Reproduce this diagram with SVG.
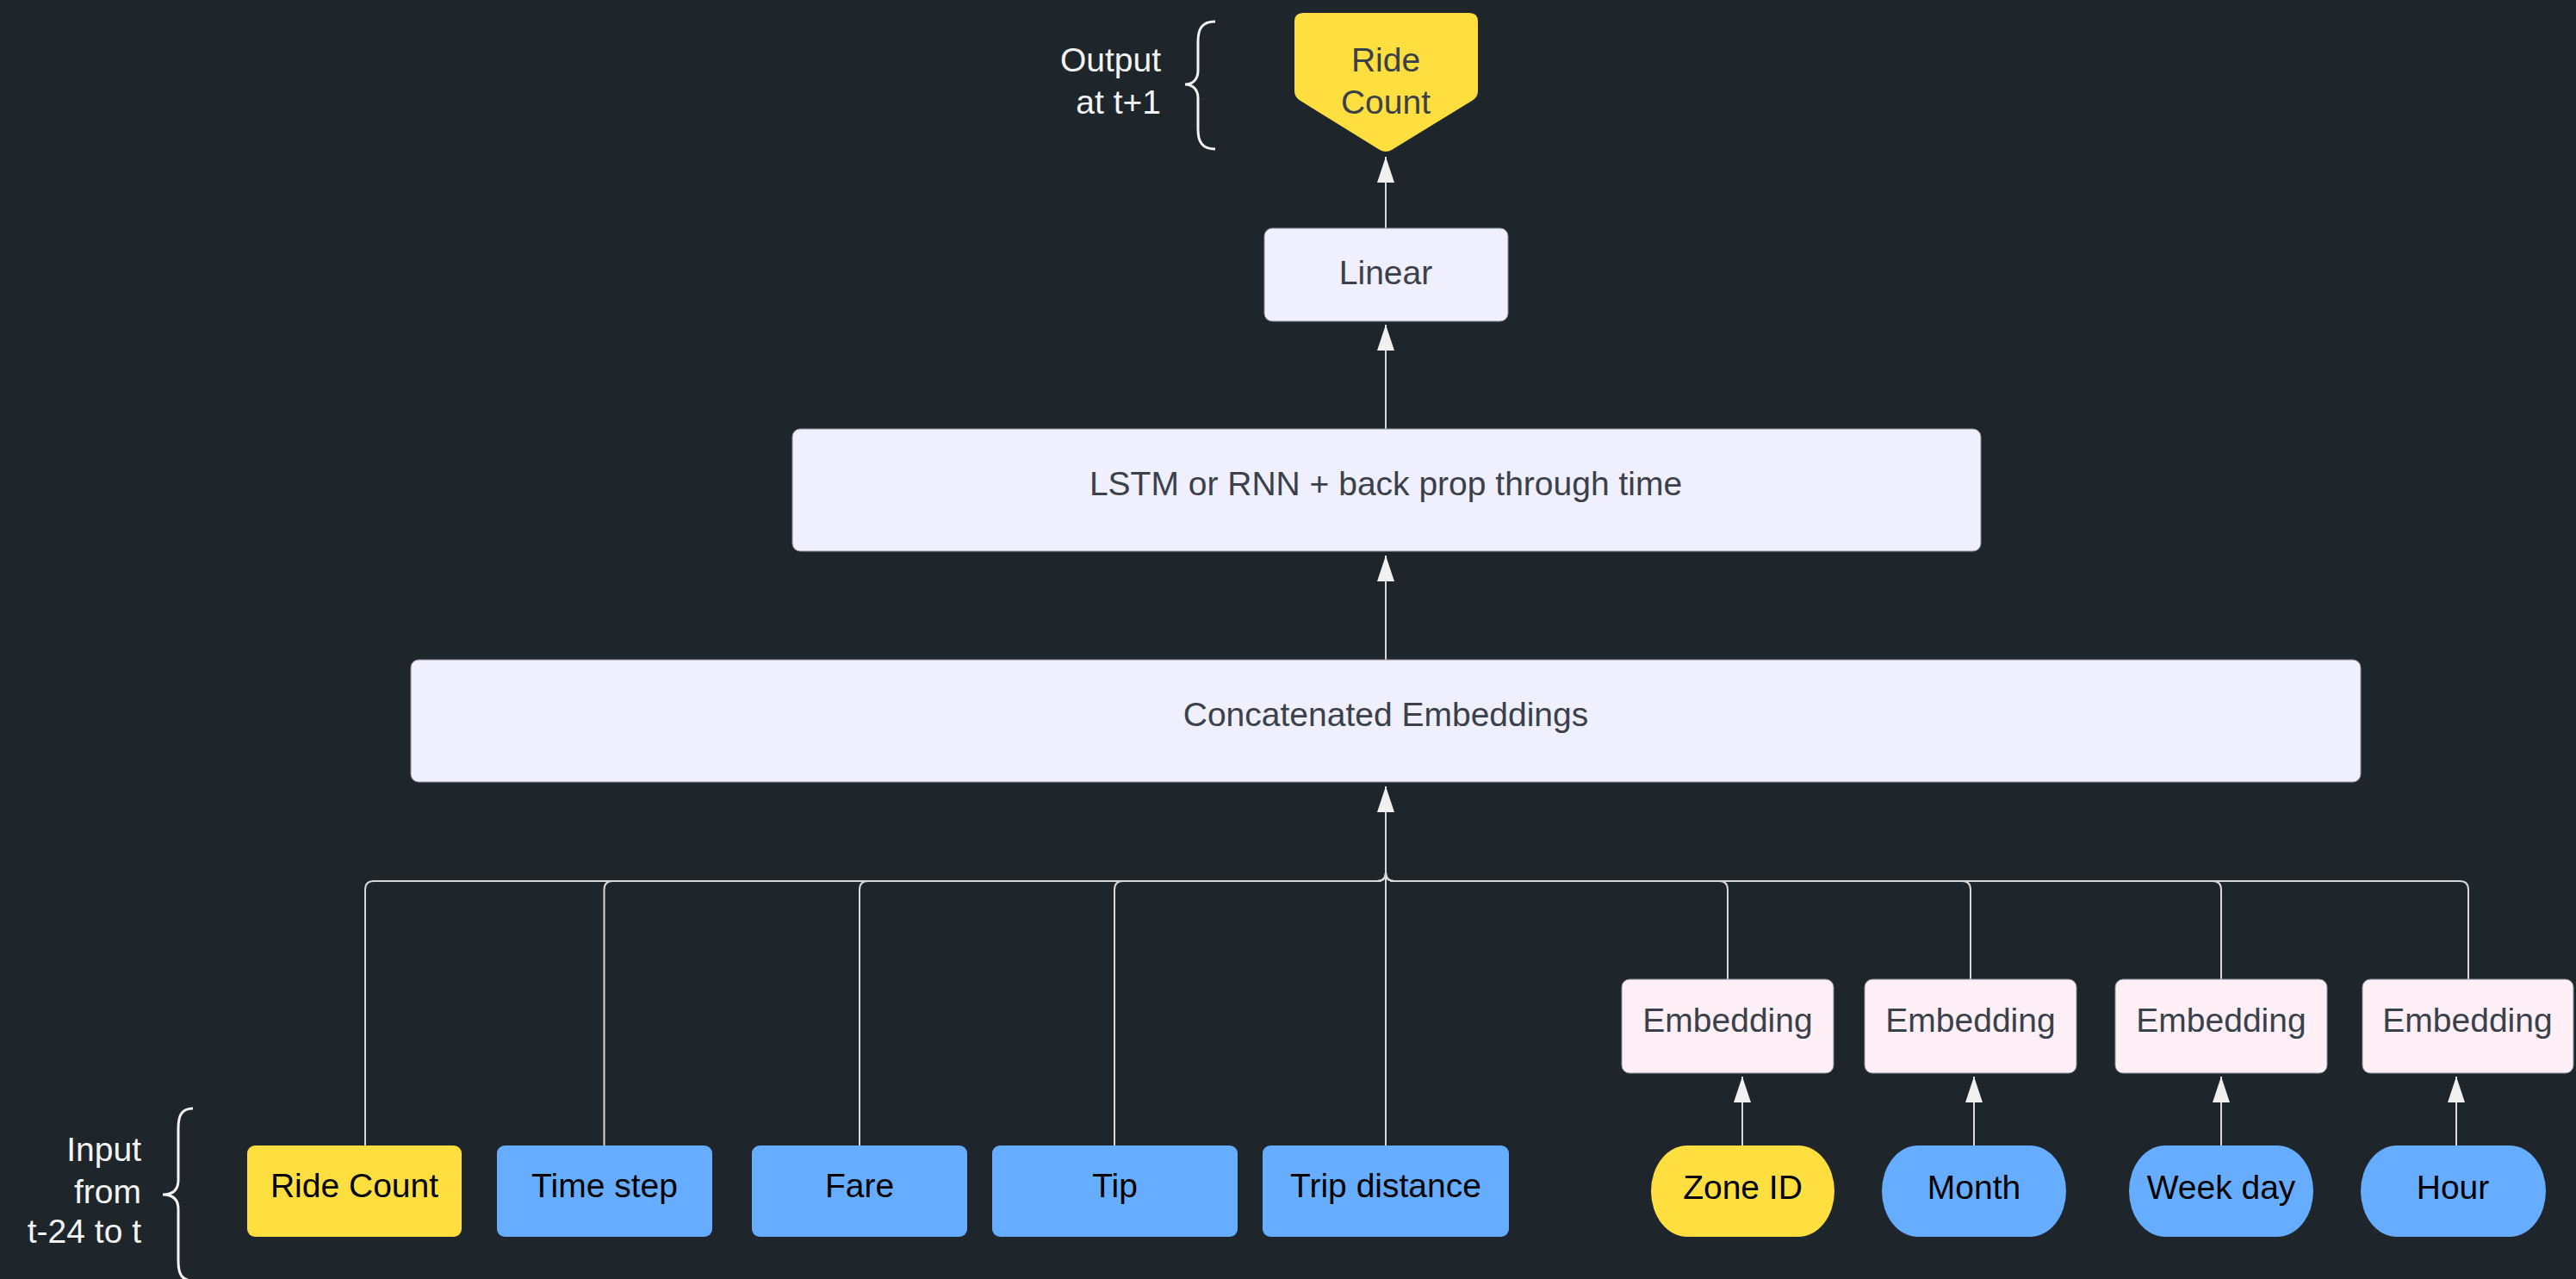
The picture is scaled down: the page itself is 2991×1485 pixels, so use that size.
<svg xmlns="http://www.w3.org/2000/svg" width="2991" height="1485" viewBox="0 0 2991 1485">
<defs>
<style>
.bg{fill:#1e252b}
.lav{fill:#efeffd;stroke:#8a8f99;stroke-width:1}
.pink{fill:#fff0f8;stroke:#8a8f99;stroke-width:1}
.yel{fill:#ffdf40}
.blue{fill:#66adff}
.t{font-family:"Liberation Sans",Arial,sans-serif;font-size:39px;text-anchor:middle}
.dk{fill:#3a414a}
.bk{fill:#000000}
.wt{font-family:"Liberation Sans",Arial,sans-serif;font-size:39px;text-anchor:end;fill:#f4f4f4}
.ln{fill:none;stroke:#d8d8d8;stroke-width:2}
.br{fill:none;stroke:#f4f4f4;stroke-width:3}
</style>
<marker id="ah" markerUnits="userSpaceOnUse" markerWidth="30" markerHeight="20" refX="30" refY="10" orient="auto">
<path d="M0,0 L30,10 L0,20 Z" fill="#f0f0f0"/>
</marker>
</defs>
<rect class="bg" x="0" y="0" width="2991" height="1485"/>

<g id="connectors">
<path class="ln" d="M424,1330 V1033 Q424,1023 434,1023 H1599 Q1609,1023 1609,1013 V945"/>
<path class="ln" d="M701.5,1330 V1033 Q701.5,1023 711.5,1023 H1599 Q1609,1023 1609,1013 V945"/>
<path class="ln" d="M998,1330 V1033 Q998,1023 1008,1023 H1599 Q1609,1023 1609,1013 V945"/>
<path class="ln" d="M1294,1330 V1033 Q1294,1023 1304,1023 H1599 Q1609,1023 1609,1013 V945"/>
<path class="ln" d="M2006,1137 V1033 Q2006,1023 1996,1023 H1619 Q1609,1023 1609,1013 V945"/>
<path class="ln" d="M2288,1137 V1033 Q2288,1023 2278,1023 H1619 Q1609,1023 1609,1013 V945"/>
<path class="ln" d="M2579,1137 V1033 Q2579,1023 2569,1023 H1619 Q1609,1023 1609,1013 V945"/>
<path class="ln" d="M2866,1137 V1033 Q2866,1023 2856,1023 H1619 Q1609,1023 1609,1013 V945"/>
<path class="ln" d="M1609,1330 V913" marker-end="url(#ah)"/>
<path class="ln" d="M1609,766 V645" marker-end="url(#ah)"/>
<path class="ln" d="M1609,498 V377" marker-end="url(#ah)"/>
<path class="ln" d="M1609,265 V182" marker-end="url(#ah)"/>
<path class="ln" d="M2023,1330 V1250" marker-end="url(#ah)"/>
<path class="ln" d="M2292,1330 V1250" marker-end="url(#ah)"/>
<path class="ln" d="M2579,1330 V1250" marker-end="url(#ah)"/>
<path class="ln" d="M2852,1330 V1250" marker-end="url(#ah)"/>
</g>

<g id="output-label">
<text class="wt" x="1348" y="83">Output</text>
<text class="wt" x="1348" y="132">at t+1</text>
<path class="br" d="M1411,25 C1396,25 1391,33 1391,48 L1391,82 C1391,92 1385,98 1376,98 C1385,98 1391,104 1391,114 L1391,150 C1391,165 1396,173 1411,173"/>
</g>

<g id="input-label">
<text class="wt" x="164" y="1348">Input</text>
<text class="wt" x="164" y="1397">from</text>
<text class="wt" x="164" y="1443">t-24 to t</text>
<path class="br" d="M224,1287 C211,1287 207,1295 207,1310 L207,1370 C207,1381 201,1387 189,1387 C201,1387 207,1393 207,1404 L207,1464 C207,1479 211,1487 224,1487"/>
</g>

<g id="ride-count-out">
<path class="yel" d="M1513,15 L1706,15 Q1716,15 1716,25 L1716,106 Q1716,113 1709,117 L1616,174 Q1609,178 1602,174 L1510,117 Q1503,113 1503,106 L1503,25 Q1503,15 1513,15 Z"/>
<text class="t dk" x="1609" y="83">Ride</text>
<text class="t dk" x="1609" y="132">Count</text>
</g>

<g id="linear">
<rect class="lav" x="1468" y="265" width="283" height="108" rx="9"/>
<text class="t dk" x="1609" y="330">Linear</text>
</g>

<g id="lstm">
<rect class="lav" x="920" y="498" width="1380" height="142" rx="9"/>
<text class="t dk" x="1609" y="575">LSTM or RNN + back prop through time</text>
</g>

<g id="concat">
<rect class="lav" x="477" y="766" width="2264" height="142" rx="9"/>
<text class="t dk" x="1609" y="843">Concatenated Embeddings</text>
</g>

<g id="emb1">
<rect class="pink" x="1883" y="1137" width="246" height="109" rx="9"/>
<text class="t dk" x="2006" y="1198">Embedding</text>
</g>
<g id="emb2">
<rect class="pink" x="2165" y="1137" width="246" height="109" rx="9"/>
<text class="t dk" x="2288" y="1198">Embedding</text>
</g>
<g id="emb3">
<rect class="pink" x="2456" y="1137" width="246" height="109" rx="9"/>
<text class="t dk" x="2579" y="1198">Embedding</text>
</g>
<g id="emb4">
<rect class="pink" x="2743" y="1137" width="245" height="109" rx="9"/>
<text class="t dk" x="2865" y="1198">Embedding</text>
</g>

<g id="in-ride-count">
<rect class="yel" x="287" y="1330" width="249" height="106" rx="9"/>
<text class="t bk" x="411.5" y="1390">Ride Count</text>
</g>
<g id="in-time-step">
<rect class="blue" x="577" y="1330" width="250" height="106" rx="9"/>
<text class="t bk" x="702" y="1390">Time step</text>
</g>
<g id="in-fare">
<rect class="blue" x="873" y="1330" width="250" height="106" rx="9"/>
<text class="t bk" x="998" y="1390">Fare</text>
</g>
<g id="in-tip">
<rect class="blue" x="1152" y="1330" width="285" height="106" rx="9"/>
<text class="t bk" x="1294.5" y="1390">Tip</text>
</g>
<g id="in-trip-distance">
<rect class="blue" x="1466" y="1330" width="286" height="106" rx="9"/>
<text class="t bk" x="1609" y="1390">Trip distance</text>
</g>

<g id="in-zone-id">
<rect class="yel" x="1917" y="1330" width="213" height="106" rx="42" ry="53"/>
<text class="t bk" x="2023.5" y="1392">Zone ID</text>
</g>
<g id="in-month">
<rect class="blue" x="2185" y="1330" width="214" height="106" rx="42" ry="53"/>
<text class="t bk" x="2292" y="1392">Month</text>
</g>
<g id="in-week-day">
<rect class="blue" x="2472" y="1330" width="214" height="106" rx="42" ry="53"/>
<text class="t bk" x="2579" y="1392">Week day</text>
</g>
<g id="in-hour">
<rect class="blue" x="2741" y="1330" width="215" height="106" rx="42" ry="53"/>
<text class="t bk" x="2848" y="1392">Hour</text>
</g>
</svg>
